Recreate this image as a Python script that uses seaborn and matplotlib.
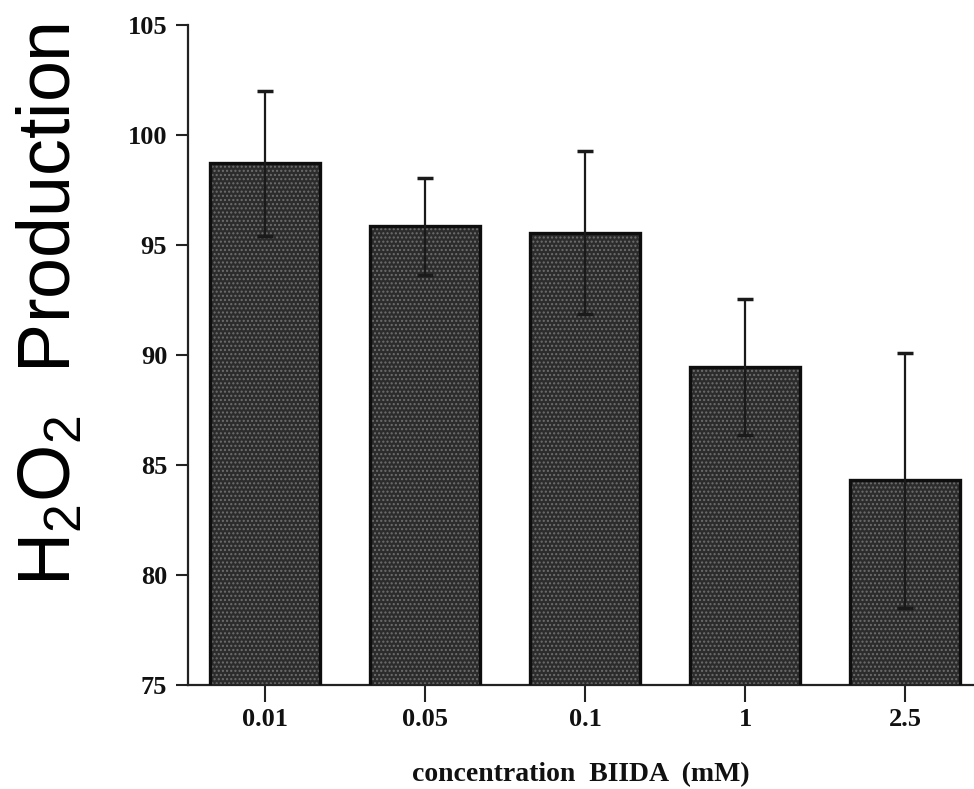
import matplotlib
matplotlib.use("Agg")
import matplotlib.pyplot as plt
import seaborn as sns
import pandas as pd

# data
concentrations = ["0.01", "0.05", "0.1", "1", "2.5"]
h2o2_mean = [98.7, 95.85, 95.55, 89.45, 84.3]
h2o2_err = [3.3, 2.2, 3.7, 3.1, 5.8]
y_ticks = [75, 80, 85, 90, 95, 100, 105]

df = pd.DataFrame({"conc": concentrations, "value": h2o2_mean})

sns.set_theme(style="ticks")
plt.rcParams["hatch.linewidth"] = 1.0

fig = plt.figure(figsize=(9.74, 7.89), dpi=100)
ax = fig.add_axes([0.193, 0.132, 0.807, 0.8365])

# textured fill layer
sns.barplot(data=df, x="conc", y="value", order=concentrations,
            color="#2c2c2c", width=0.69, saturation=1, ax=ax,
            errorbar=None, zorder=2)
for p in ax.patches:
    p.set_hatch("....")
    p.set_edgecolor("#6e6e6e")
    p.set_linewidth(0)
    p.set_facecolor("#2c2c2c")

# outline layer
sns.barplot(data=df, x="conc", y="value", order=concentrations,
            fill=False, edgecolor="#0e0e0e", linewidth=2.4, width=0.69,
            ax=ax, errorbar=None, zorder=3)

ax.errorbar(x=range(len(concentrations)), y=h2o2_mean, yerr=h2o2_err,
            fmt="none", ecolor="#1a1a1a", elinewidth=1.6, capsize=6,
            capthick=2.5, zorder=4)

ax.set_ylim(75, 105)
ax.set_yticks(y_ticks)
ax.set_xlim(-0.48, 4.43)

sns.despine(ax=ax)
for s in ["left", "bottom"]:
    ax.spines[s].set_linewidth(1.6)
    ax.spines[s].set_color("#222222")

ax.tick_params(axis="y", length=9, width=1.5, colors="#222222", pad=6)
ax.tick_params(axis="x", length=12, width=1.5, colors="#222222", pad=5)
for lab in ax.get_xticklabels() + ax.get_yticklabels():
    lab.set_fontfamily("Liberation Serif")
    lab.set_fontweight("bold")
    lab.set_fontsize(19)
    lab.set_color("#111111")

ax.set_xlabel("concentration  BIIDA  (mM)", family="Liberation Serif",
              fontweight="bold", fontsize=20, color="#111111", labelpad=22)
ax.set_ylabel(r"$\mathregular{H_2O_2}$  Production", family="Liberation Sans",
              fontsize=53, color="#000000")
ax.yaxis.set_label_coords(-0.13, 0.577)

fig.savefig("out.png", dpi=100)
